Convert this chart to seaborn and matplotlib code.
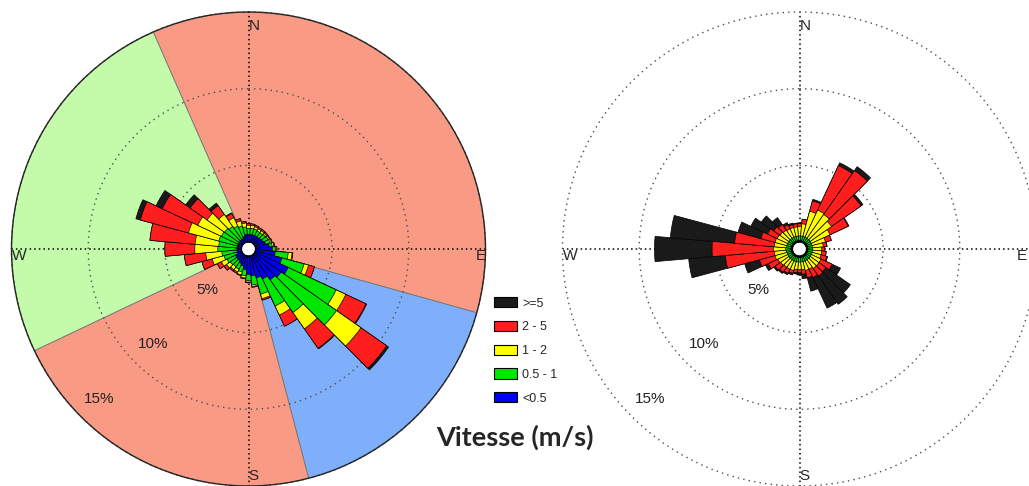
import numpy as np
import pandas as pd
import matplotlib
matplotlib.use("Agg")
import matplotlib.pyplot as plt
from matplotlib.patches import Patch
import seaborn as sns

# wind direction sectors (deg, clockwise from north)
directions = list(range(0, 360, 10))

speed_labels = ['<0.5', '0.5 - 1', '1 - 2', '2 - 5', '>=5']
speed_colors = ['#0000F0', '#00E600', '#FFFF00', '#FF1E1E', '#1A1A1A']

# left rose, frequency (%) per sector and speed class
left_lt05 = [.5, .5, .5, .5, .5, .55, .6, .7, .9, 1.1, 1.3, 1.8, 2.4, 2.15, 2.0, 1.7, 1.5, 1.3,
             1.2, .9, .7, .6, .5, .5, .5, .3, .3, .3, .3, .3, .3, .3, .3, .3, .4, .5]
left_05_1 = [.4, .4, .4, .35, .35, .35, .35, .3, .2, .2, .85, 1.5, 3.45, 4.4, 2.6, 1.95, 1.1, .6,
             .4, .4, .4, .4, .45, .5, .6, .9, 1.0, 1.25, 1.2, 1.25, 1.2, 1.15, 1.05, .9, .7, .5]
left_1_2 = [.2, .2, .15, .15, .15, .1, .1, .1, .1, .08, .25, .3, .7, 1.95, 1.3, .65, .3, .1,
            .1, .15, .2, .2, .25, .3, .4, .8, 1.05, 1.5, 1.55, 2.05, 1.7, 1.4, .95, .6, .35, .25]
left_2_5 = [.1, .1, .1, .1, .1, .1, .05, .05, .05, .02, .05, .4, 1.45, 2.05, 1.55, .8, .1, .05,
            .05, .05, .05, .1, .1, .2, .3, .7, 1.4, 1.95, 2.95, 3.25, 2.55, 1.35, .7, .3, .15, .1]
left_ge5 = [0, 0, 0, 0, 0, 0, 0, 0, 0, 0, 0, 0, .05, .15, .05, 0, 0, 0,
            0, 0, 0, 0, 0, 0, 0, 0, 0, 0, 0, .3, .45, .35, .2, .05, 0, 0]

# right rose
right_lt05 = [.1, .1, .1, .1, .1, .1, .1, .1, .1, .1, .1, .1, .1, .1, .1, .1, .1, .1,
              .1, .1, .1, .1, .1, .1, .1, .1, .1, .1, .1, .1, .1, .1, .1, .1, .1, .1]
right_05_1 = [.3, .3, .3, .3, .3, .3, .3, .3, .3, .3, .3, .3, .3, .3, .3, .3, .3, .3,
              .3, .3, .3, .3, .3, .3, .3, .3, .3, .35, .3, .3, .3, .3, .3, .3, .3, .3]
right_1_2 = [.6, .8, 1.7, 1.95, 1.9, 1.7, 1.35, .9, .7, .6, .6, .6, .7, .7, .7, .6, .6, .5,
             .5, .5, .6, .6, .6, .65, .7, .8, .8, .8, .8, .8, .75, .7, .65, .6, .6, .6]
right_2_5 = [.2, .3, .7, 3.2, 3.5, 2.35, 1.3, .4, .25, .2, .3, .4, .8, .55, .6, .6, .5, .3,
             .2, .2, .2, .3, .4, .45, .7, 1.05, 3.2, 4.0, 2.6, .95, .7, .5, .45, .3, .2, .2]
right_ge5 = [.05, 0, .1, .2, .3, .15, .05, 0, 0, 0, 0, .05, .6, 1.95, 2.25, 2.2, .9, .3,
             .15, .1, .1, .1, .1, .1, .2, 1.0, 2.4, 3.75, 4.2, 1.55, 1.2, 1.0, .55, .15, .1, .05]

# background sectors of the left rose (start, end in deg)
sector_starts = [336.3, 105.6, 165.3, 244.6]
sector_ends = [465.6, 165.3, 244.6, 336.3]
sector_colors = ['#F99B84', '#7FAFFB', '#F99B84', '#C3FBAB']

ring_values = [5, 10, 15]
ring_labels = ['5%', '10%', '15%']


def make_df(values):
    rows = []
    for lab, vals in zip(speed_labels, values):
        for d, v in zip(directions, vals):
            rows.append({'direction': d, 'speed': lab, 'freq': v})
    return pd.DataFrame(rows)


def draw_rose(ax, df, outer_solid):
    cum = df.pivot(index='direction', columns='speed', values='freq')[speed_labels].cumsum(axis=1)
    theta = np.radians(cum.index.values.astype(float))
    for lab, col in reversed(list(zip(speed_labels, speed_colors))):
        sns.barplot(x=theta, y=cum[lab].values, native_scale=True, width=1, color=col,
                    saturation=1, edgecolor='k', linewidth=0.5, errorbar=None,
                    orient='x', ax=ax, zorder=3)

    ax.set_theta_zero_location('N')
    ax.set_theta_direction(-1)
    ax.set_ylim(0, 15)
    ax.set_rorigin(-0.45)
    ax.set_xticks(np.radians([0, 90, 180, 270]))
    ax.set_xticklabels([])
    ax.set_yticks(ring_values)
    ax.set_yticklabels([])
    ax.set_xlabel('')
    ax.set_ylabel('')
    ax.set_axisbelow(True)
    ax.xaxis.grid(True, color='k', linestyle=(0, (1, 2)), linewidth=1.1)
    ax.yaxis.grid(True, color='0.3', linestyle=(0, (1, 3)), linewidth=1.0)
    for gl in ax.yaxis.get_gridlines():
        gl.set_clip_on(False)
    if outer_solid:
        ax.spines['polar'].set_color('0.15')
        ax.spines['polar'].set_linewidth(1.0)
    else:
        ax.spines['polar'].set_visible(False)

    # white hole in the middle
    t = np.linspace(0, 2 * np.pi, 200)
    ax.plot(t, np.zeros_like(t), color='k', lw=1.2, zorder=6)

    for v, lab in zip(ring_values, ring_labels):
        ax.text(np.radians(225), v - 1.65, lab, ha='center', va='center',
                fontsize=11, color='#222222', zorder=7)


sns.set_style("white")
plt.rcParams['font.family'] = ['Liberation Sans', 'DejaVu Sans']

fig = plt.figure(figsize=(10.29, 4.86), dpi=100)
W, H = 1029, 486
R = 237
ax1 = fig.add_axes([(248.5 - R) / W, (H - 249 - R) / H, 2 * R / W, 2 * R / H], projection='polar')
ax2 = fig.add_axes([(799.5 - R) / W, (H - 249 - R) / H, 2 * R / W, 2 * R / H], projection='polar')

# background sectors
for s, e, c in zip(sector_starts, sector_ends, sector_colors):
    ax1.bar(np.radians((s + e) / 2), 15, width=np.radians(e - s), bottom=0, color=c,
            edgecolor='0.45', linewidth=0.6, zorder=0.2)

draw_rose(ax1, make_df([left_lt05, left_05_1, left_1_2, left_2_5, left_ge5]), True)
draw_rose(ax2, make_df([right_lt05, right_05_1, right_1_2, right_2_5, right_ge5]), False)

for ax in (ax1, ax2):
    ax.text(0, 14.1, 'N', ha='left', va='center', fontsize=11, zorder=7)
    ax.text(np.pi, 14.35, 'S', ha='left', va='center', fontsize=11, zorder=7)
    ax.text(np.radians(270), 14.95, 'W', ha='left', va='top', fontsize=11, zorder=7)
ax1.text(np.radians(90), 15.0, 'E', ha='right', va='top', fontsize=11, zorder=7)
ax2.text(np.radians(90), 14.4, 'E', ha='right', va='top', fontsize=11, zorder=7)

handles = [Patch(facecolor=c, edgecolor='k', linewidth=0.8) for c in speed_colors[::-1]]
fig.legend(handles, speed_labels[::-1], loc='upper left', bbox_to_anchor=(494 / W, 1 - 297 / H),
           frameon=False, fontsize=9, handlelength=1.8, handleheight=0.9, handletextpad=0.45,
           labelspacing=0.9, borderpad=0, borderaxespad=0)

fig.text(515 / W, 1 - 437 / H, 'Vitesse (m/s)', ha='center', va='center', fontsize=19.5,
         fontweight='bold', family=['Lato', 'DejaVu Sans'])

fig.savefig('out.png', dpi=100)
